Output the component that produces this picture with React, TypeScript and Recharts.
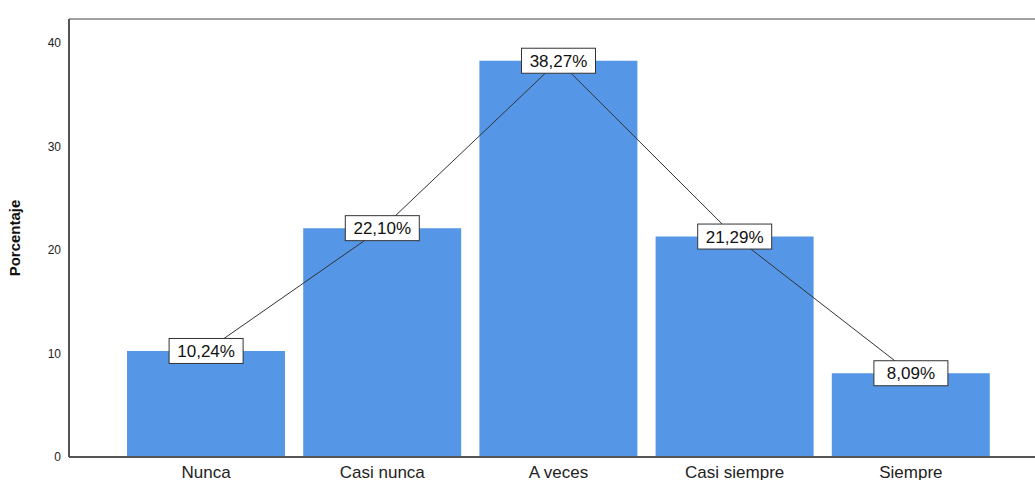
import { Bar, ComposedChart, Line, ReferenceLine, XAxis, YAxis } from "recharts";

const categories = ["Nunca", "Casi nunca", "A veces", "Casi siempre", "Siempre"];
const percentages = [10.24, 22.1, 38.27, 21.29, 8.09];
const yTicks = [0, 10, 20, 30, 40];
const yMax = 42.3;

const data = categories.map((category, i) => ({ category, pct: percentages[i] }));

const fmt = (v: number) => v.toFixed(2).replace(".", ",") + "%";

function PctLabel(props: any) {
  const { x, y, value } = props;
  if (x == null || y == null) return null;
  return (
    <g>
      <rect x={x - 37} y={y - 12.5} width={74} height={25} fill="#ffffff" stroke="#333333" strokeWidth={1} />
      <text x={x} y={y} dy="0.36em" textAnchor="middle" fontSize={17} fill="#111111">
        {fmt(value)}
      </text>
    </g>
  );
}

function CatTick(props: any) {
  const { x, y, payload } = props;
  return (
    <text x={x} y={y} dy={13} textAnchor="middle" fontSize={17} fill="#222222">
      {payload.value}
    </text>
  );
}

export default function App() {
  return (
    <div style={{ position: "absolute", left: 0, top: 0, width: 1035, height: 480, background: "#fff" }}>
      <ComposedChart
        width={1035}
        height={480}
        data={data}
        margin={{ top: 19, right: 0, bottom: 0, left: 29 }}
        style={{ fontFamily: "Arial, 'Liberation Sans', sans-serif" }}
      >
        <XAxis
          dataKey="category"
          axisLine={{ stroke: "#555555", strokeWidth: 2 }}
          tickLine={false}
          tick={<CatTick />}
          height={23}
          padding={{ left: 49, right: 36 }}
          interval={0}
        />
        <YAxis
          domain={[0, yMax]}
          ticks={yTicks}
          allowDataOverflow
          width={40}
          axisLine={{ stroke: "#555555", strokeWidth: 2 }}
          tickLine={false}
          tick={{ fontSize: 12, fill: "#222222" }}
          tickMargin={2}
          label={{
            value: "Porcentaje",
            angle: -90,
            position: "insideLeft",
            offset: -14,
            style: { fontSize: 15, fontWeight: "bold", fill: "#111111", textAnchor: "middle" },
          }}
        />
        <ReferenceLine y={yMax} stroke="#a0a0a0" strokeWidth={2} ifOverflow="extendDomain" />
        <Bar dataKey="pct" fill="#5596e6" barSize={158} isAnimationActive={false} />
        <Line
          dataKey="pct"
          type="linear"
          stroke="#333333"
          strokeWidth={1}
          dot={false}
          activeDot={false}
          label={<PctLabel />}
          isAnimationActive={false}
        />
      </ComposedChart>
    </div>
  );
}
